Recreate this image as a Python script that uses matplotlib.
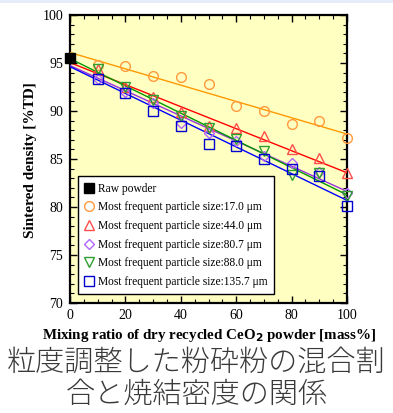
import numpy as np
import matplotlib
matplotlib.use("Agg")
import matplotlib.pyplot as plt
from matplotlib.patches import Rectangle

# ---- data ----
x = [10, 20, 30, 40, 50, 60, 70, 80, 90, 100]
raw_x = 0
raw_y = 95.5
s17 = [94.8, 94.7, 93.65, 93.55, 92.8, 90.55, 89.95, 88.6, 89.0, 87.2]
s44 = [94.35, 92.45, 91.5, 89.85, 88.45, 88.25, 87.4, 86.0, 85.1, 83.5]
s807 = [93.35, 92.0, 90.8, 88.75, 87.75, 86.9, 85.3, 84.55, 83.65, 81.45]
s88 = [94.4, 92.45, 91.1, 89.5, 88.2, 87.1, 85.8, 83.3, 83.5, 81.1]
s1357 = [93.3, 91.85, 89.95, 88.45, 86.55, 86.4, 84.95, 83.95, 83.2, 80.1]
labels = ["Most frequent particle size:17.0 \u03bcm",
          "Most frequent particle size:44.0 \u03bcm",
          "Most frequent particle size:80.7 \u03bcm",
          "Most frequent particle size:88.0 \u03bcm",
          "Most frequent particle size:135.7 \u03bcm"]
xticks = [0, 20, 40, 60, 80, 100]
yticks = [70, 75, 80, 85, 90, 95, 100]

series = [s17, s44, s807, s88, s1357]
markers = ["o", "^", "D", "v", "s"]
mcolors = ["#ff9a3c", "#ff4d4d", "#b266ff", "#2e9e2e", "#0000d0"]
lcolors = ["#ff9900", "#ff0000", "#9933dd", "#009900", "#0000ff"]
msizes = [7.0, 7.0, 5.5, 6.5, 7.0]

plt.rcParams['font.family'] = ['Liberation Serif', 'DejaVu Serif']

fig = plt.figure(figsize=(3.93, 4.13), dpi=100)
fig.patches.append(Rectangle((0, 1 - 3 / 413), 1, 3 / 413, transform=fig.transFigure,
                             facecolor="#e4edf9", edgecolor="none", zorder=0))
ax = fig.add_axes([70 / 393, 1 - 303 / 413, 277 / 393, 288 / 413])
ax.set_facecolor("#ffffc2")

xfit = np.array([0, 100])
handles = []
h0, = ax.plot([raw_x], [raw_y], "s", color="black", markersize=7.5, zorder=6, clip_on=False,
              label="Raw powder")
handles.append(h0)
for ys, m, mc, lc, ms, lab in zip(series, markers, mcolors, lcolors, msizes, labels):
    xa = np.array([raw_x] + x, dtype=float)
    ya = np.array([raw_y] + ys, dtype=float)
    k, b = np.polyfit(xa, ya, 1)
    ax.plot(xfit, k * xfit + b, color=lc, lw=1.0, zorder=3)
    h, = ax.plot(x, ys, m, markersize=ms, markerfacecolor="none", markeredgecolor=mc,
                 markeredgewidth=1.0, linestyle="none", zorder=5, clip_on=False, label=lab)
    handles.append(h)

ax.set_xlim(0, 100)
ax.set_ylim(70, 100)
ax.set_xticks(xticks)
ax.set_yticks(yticks)
ax.set_xticks(np.arange(0, 101, 5), minor=True)
ax.set_yticks(np.arange(70, 101, 1), minor=True)
ax.tick_params(which="both", direction="in", top=True, right=True, labelsize=10)
ax.tick_params(which="major", length=5, width=1.0)
ax.tick_params(which="minor", length=3, width=0.8)
ax.tick_params(axis="y", pad=5)
ax.tick_params(axis="x", pad=4)
for sp in ax.spines.values():
    sp.set_linewidth(1.6)

leg = ax.legend(handles=handles, loc="lower left", bbox_to_anchor=(0.03, 0.03),
                fontsize=8.3, frameon=True, fancybox=False, edgecolor="black",
                framealpha=1, facecolor="white", handlelength=0.8, handletextpad=0.35,
                labelspacing=0.58, borderpad=0.55, borderaxespad=0, markerscale=1.0)
leg.get_frame().set_linewidth(1.0)

fig.text(31 / 393, 1 - 160 / 413, "Sintered density [%TD]", rotation=90, ha="center",
         va="center", fontsize=11, fontweight="bold")
fig.text(209 / 393, 1 - 336 / 413, "Mixing ratio of dry recycled CeO$_\\mathbf{2}$ powder [mass%]",
         ha="center", va="center", fontsize=10.8, fontweight="bold")

fig.text(0.5, 1 - 363 / 413, "粒度調整した粉砕粉の混合割", ha="center", va="center",
         fontsize=21, color="#3a3a3a", fontweight="light",
         family=["Noto Sans CJK JP", "DejaVu Sans"])
fig.text(0.5, 1 - 395 / 413, "合と焼結密度の関係", ha="center", va="center",
         fontsize=21, color="#3a3a3a", fontweight="light",
         family=["Noto Sans CJK JP", "DejaVu Sans"])

fig.savefig("out.png", dpi=100)
